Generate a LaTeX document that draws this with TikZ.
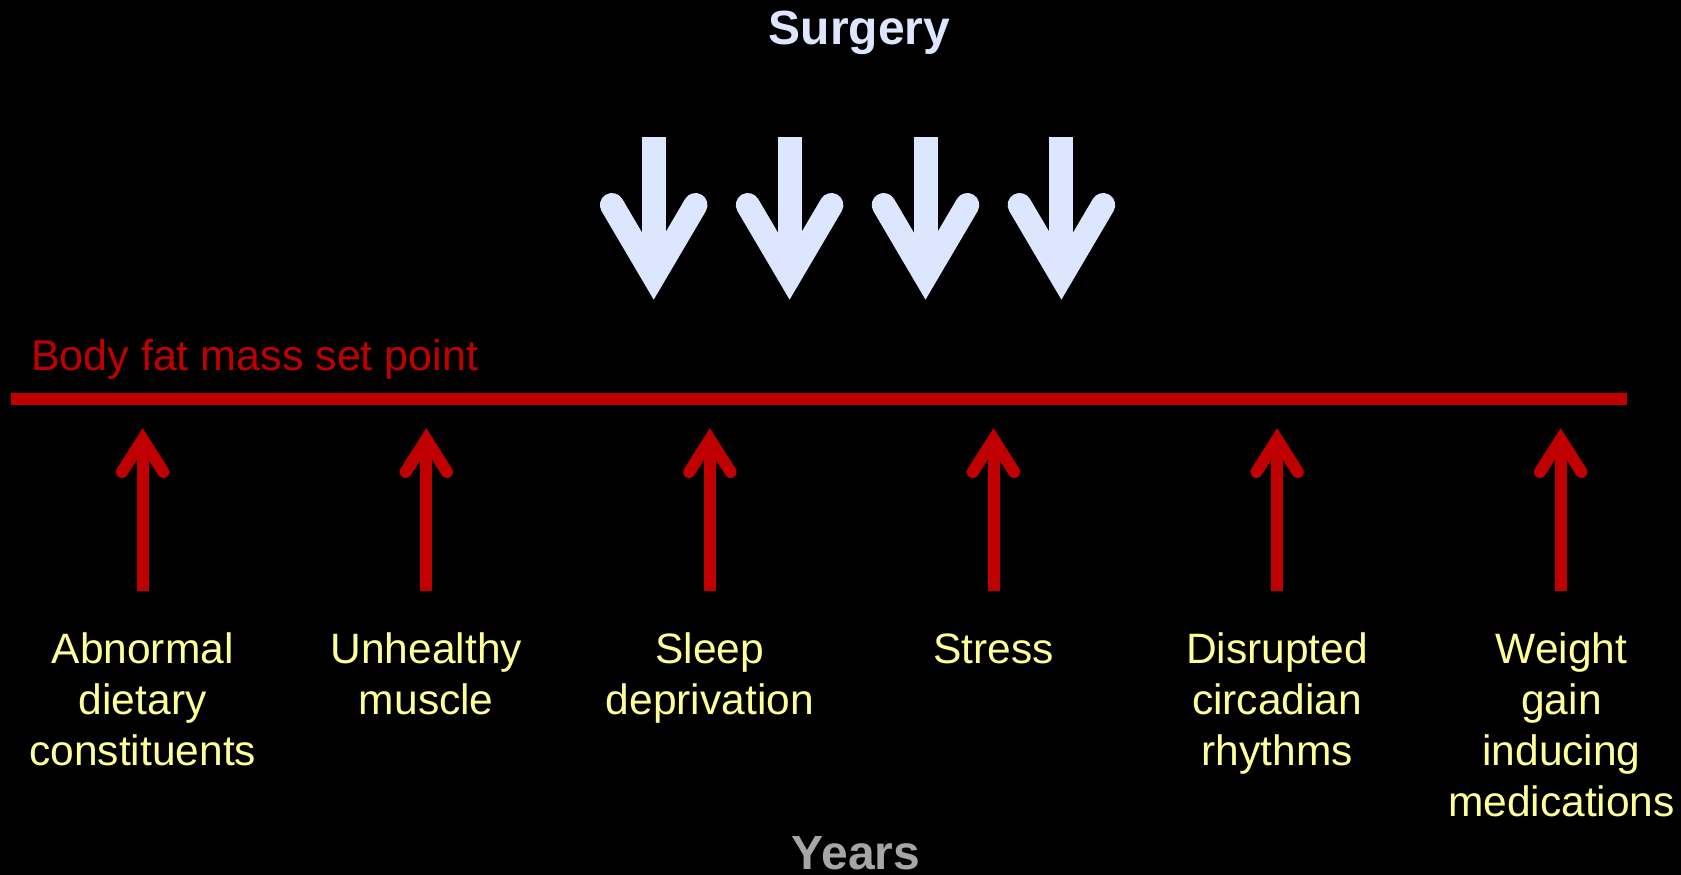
\documentclass[tikz,border=0pt]{standalone}
\usepackage{fontspec}
\setmainfont{Liberation Sans}
\definecolor{surg}{RGB}{221,230,255}
\definecolor{setred}{RGB}{192,0,0}
\definecolor{pale}{RGB}{255,255,153}
\definecolor{yrs}{RGB}{166,166,166}
\tikzset{
  factor/.style={text=pale, font=\fontsize{42.5}{51}\selectfont, align=center, anchor=north, inner sep=0pt},
  title/.style={font=\fontsize{48}{56}\selectfont\bfseries, anchor=base, inner sep=0pt},
  redshaft/.style={draw=setred, line width=12pt, line cap=butt},
  redhead/.style={draw=setred, line width=12pt, line cap=round, line join=miter},
  whiteshaft/.style={draw=surg, line width=24pt, line cap=butt},
  whitehead/.style={draw=surg, line width=24pt, line cap=round, line join=miter},
}
\begin{document}
\begin{tikzpicture}[x=1pt,y=-1pt]
\fill[black] (0,0) rectangle (1681,875);
\useasboundingbox (0,0) rectangle (1681,875);

\node[title, text=surg] (surgery) at (859.5,45) {Surgery};
\node[title, text=yrs] (years) at (856,869.5) {Years};

% set point line
\coordinate (lineL) at (11,399);
\coordinate (lineR) at (1627,399);
\draw[draw=setred, line width=12pt] (lineL) -- (lineR);
\node[text=setred, font=\fontsize{43}{51}\selectfont, anchor=base west, inner sep=0pt] (setpoint) at (31,370.7) {Body fat mass set point};

% surgery arrows
\foreach \i/\x in {1/653.7,2/789.6,3/925.5,4/1061.4}{
  \coordinate (wtop\i) at (\x,137);
  \coordinate (wmid\i) at (\x,265);
  \coordinate (wtip\i) at (\x,276);
  \coordinate (wl\i) at (\x-41.8,205);
  \coordinate (wr\i) at (\x+41.8,205);
  \draw[whiteshaft] (wtop\i) -- (wmid\i);
  \draw[whitehead] (wl\i) -- (wtip\i) -- (wr\i);
}

% factor labels (strut fixes the first baseline at 663.3)
\node[factor] (f1) at (142.7,627.6) {\strut Abnormal\\dietary\\constituents};
\node[factor] (f2) at (426.3,627.6) {\strut Unhealthy\\muscle};
\node[factor] (f3) at (709.9,627.6) {\strut Sleep\\deprivation};
\node[factor] (f4) at (993.5,627.6) {\strut Stress};
\node[factor] (f5) at (1277.1,627.6) {\strut Disrupted\\circadian\\rhythms};
\node[factor] (f6) at (1561.5,627.6) {\strut Weight\\gain\\inducing\\medications};

% red arrows
\foreach \i/\x in {1/142.7,2/426.3,3/709.9,4/993.5,5/1277.1,6/1560.7}{
  \coordinate (rbot\i) at (\x,591);
  \coordinate (rtop\i) at (\x,441);
  \coordinate (rtip\i) at (\x,439.4);
  \coordinate (rl\i) at (\x-20.7,472);
  \coordinate (rr\i) at (\x+20.7,472);
  \draw[redshaft] (rbot\i) -- (rtop\i);
  \draw[redhead] (rl\i) -- (rtip\i) -- (rr\i);
}
\end{tikzpicture}
\end{document}
